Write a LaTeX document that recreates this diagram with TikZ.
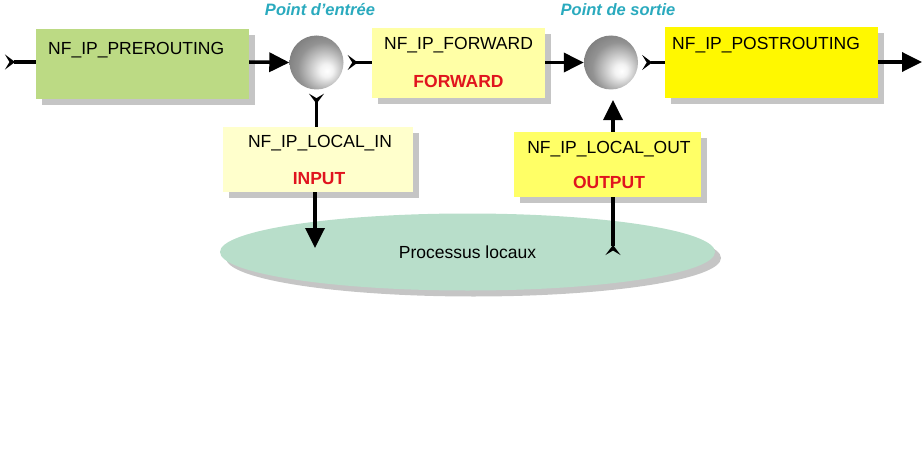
\documentclass[tikz,border=0pt]{standalone}
\usepackage{fontspec}
\setmainfont{Liberation Sans}
\usepackage{xcolor}
\usetikzlibrary{arrows.meta}
\usetikzlibrary{shapes.geometric,shadows,positioning}
\tikzset{font={\fontsize{17.5pt}{20}\selectfont}}
\definecolor{preGreen}{RGB}{188,218,132}
\definecolor{fwdYellow}{RGB}{255,255,166}
\definecolor{postYellow}{RGB}{255,248,0}
\definecolor{inYellow}{RGB}{255,255,204}
\definecolor{outYellow}{RGB}{255,255,102}
\definecolor{procGreen}{RGB}{184,222,202}
\definecolor{pointBlue}{RGB}{42,170,190}
\definecolor{chainRed}{RGB}{224,20,30}
\pgfdeclareradialshading{hookball}{\pgfpoint{10bp}{-8bp}}{color(0bp)=(white); color(6bp)=(white!90!gray); color(24bp)=(gray!85); color(46bp)=(black!62); color(70bp)=(black!65)}
\tikzset{
  hookbox/.style={rectangle,inner sep=0pt,draw=none,drop shadow={shadow xshift=6pt,shadow yshift=-6pt,fill=black!45,opacity=.5}},
  hookpoint/.style={circle,inner sep=0pt,minimum size=54pt,shading=hookball},
  flow/.style={line width=3.5pt,-{Triangle[length=20pt,width=19pt]}},
  tailflow/.style={line width=3.5pt,{Stealth[reversed,length=10pt,inset=4.5pt,width=15pt]}-},
  chain/.style={font={\fontsize{17.5pt}{20}\selectfont\bfseries},text=chainRed},
  pointlabel/.style={font={\fontsize{16.5pt}{20}\selectfont\bfseries\itshape},text=pointBlue}
}

\begin{document}
\begin{tikzpicture}[x=1pt,y=-1pt]
\useasboundingbox (0,0) rectangle (924,460);

%local processes
\node[ellipse,minimum width=495pt,minimum height=77pt,fill=procGreen,drop shadow={shadow xshift=6pt,shadow yshift=-6pt,fill=black!45,opacity=.5}] at (467.5,252) (proc) {Processus locaux};

%hook boxes
\node[hookbox,fill=preGreen,minimum width=213pt,minimum height=70pt] at (142.5,64) (pre) {};
\node[hookbox,fill=fwdYellow,minimum width=173pt,minimum height=70pt] at (458.5,63) (fwd) {};
\node[hookbox,fill=postYellow,minimum width=213pt,minimum height=71pt] at (771.5,62.5) (post) {};
\node[hookbox,fill=inYellow,minimum width=190pt,minimum height=65pt] at (318,159.5) (in) {};
\node[hookbox,fill=outYellow,minimum width=187pt,minimum height=65pt] at (607,164.5) (out) {};

%hook names
\node[anchor=base west,inner sep=0pt] at (48,55) (preT) {NF\_IP\_PREROUTING};
\node[anchor=base,inner sep=0pt] at (458.5,50) (fwdT) {NF\_IP\_FORWARD};
\node[anchor=base west,inner sep=0pt] at (672,50) (postT) {NF\_IP\_POSTROUTING};
\node[anchor=base,inner sep=0pt] at (320,147) (inT) {NF\_IP\_LOCAL\_IN};
\node[anchor=base,inner sep=0pt] at (609,153) (outT) {NF\_IP\_LOCAL\_OUT};

%chain names
\node[chain,anchor=base,inner sep=0pt] at (458.5,88) (fwdC) {FORWARD};
\node[chain,anchor=base,inner sep=0pt] at (319,184) (inC) {INPUT};
\node[chain,anchor=base,inner sep=0pt] at (609,188) (outC) {OUTPUT};

%routing points
\node[hookpoint] at (316.5,62.5) (entry) {};
\node[hookpoint] at (611,62.5) (exit) {};
\node[pointlabel] at (320,10) (entryL) {Point d'entrée};
\node[pointlabel] at (618,10) (exitL) {Point de sortie};

%connectors
\coordinate (start) at (5,62);
\coordinate (end) at (922,62);
\coordinate (inEnd) at (315,248);
\coordinate (outStart) at (613,255);
\coordinate (outEnd) at (613,100);

\draw[tailflow] (start) -- (pre.west |- start);
\draw[flow] (pre.east |- start) -- (entry.west);
\draw[tailflow] ([xshift=4pt]entry.east) -- (fwd.west |- entry);
\draw[flow] (fwd.east |- exit) -- (exit.west);
\draw[tailflow] ([xshift=4pt]exit.east) -- (post.west |- exit);
\draw[flow] (post.east |- end) -- (end);

\draw[tailflow] ([yshift=-4pt]entry.south) -- (entry.south |- in.north);
\draw[flow] (inEnd |- in.south) -- (inEnd);
\draw[tailflow] (outStart) -- (outStart |- out.south);
\draw[flow] (outEnd |- out.north) -- (outEnd);

\end{tikzpicture}
\end{document}
